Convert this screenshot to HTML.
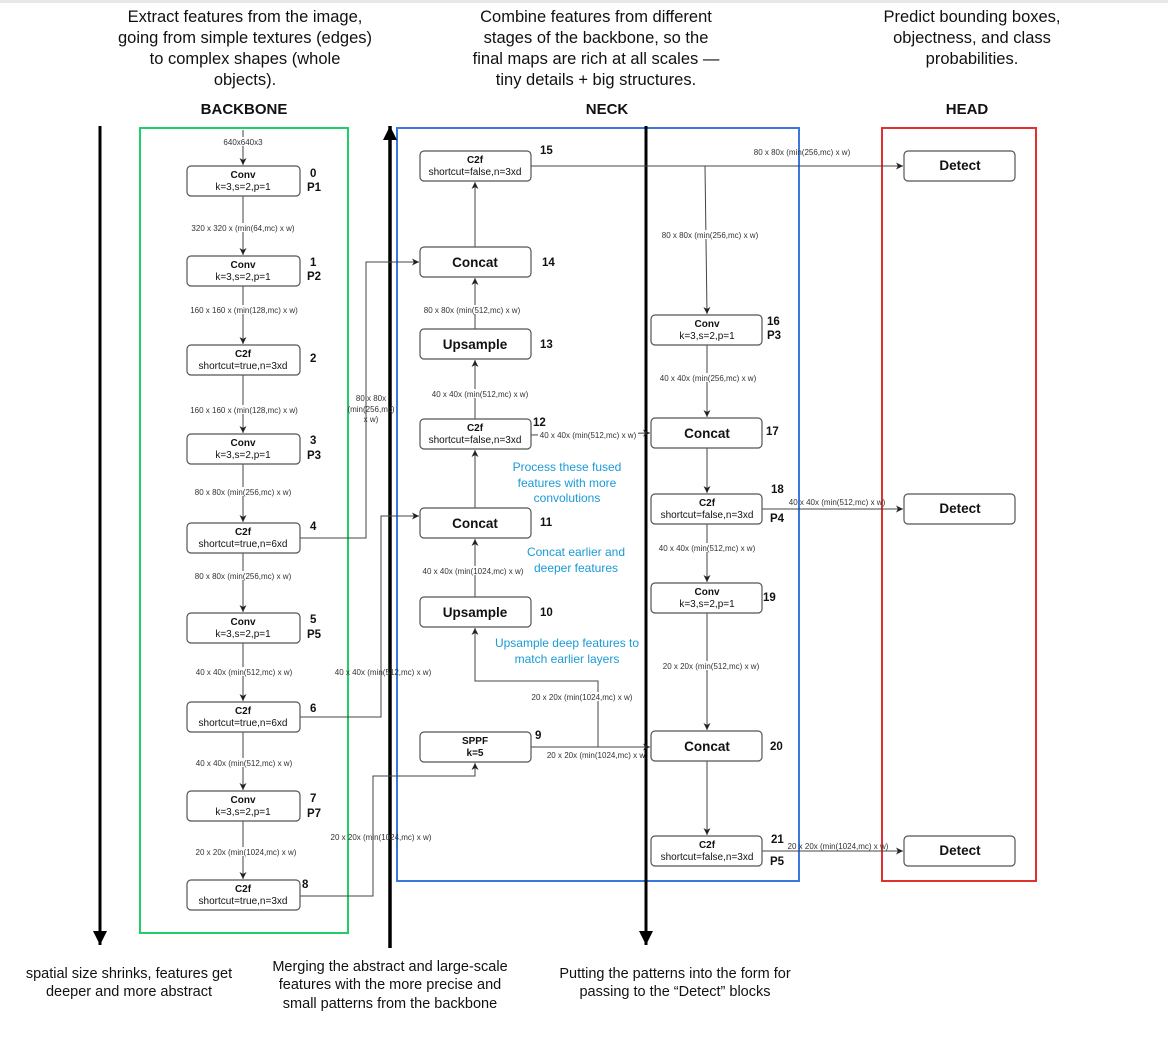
<!DOCTYPE html>
<html><head><meta charset="utf-8"><style>
html,body{margin:0;padding:0;background:#fff}
svg{display:block}
text{font-family:"Liberation Sans",sans-serif}
.t{font-size:16.5px;fill:#111;text-anchor:middle}
.bt{font-size:14.5px;fill:#111;text-anchor:middle}
.h{font-size:15px;font-weight:bold;fill:#111;text-anchor:middle}
.s{font-size:8px;fill:#333;text-anchor:middle}
.b{font-size:10px;fill:#111;text-anchor:middle}
.bb{font-size:10px;font-weight:bold;fill:#111;text-anchor:middle}
.big{font-size:13.5px;font-weight:bold;fill:#111;text-anchor:middle}
.n{font-size:11.5px;font-weight:bold;fill:#111}
.bl{font-size:12px;fill:#1a9ad6;text-anchor:middle}
.box{fill:#fff;stroke:#555;stroke-width:1.2}
.ln{stroke:#444;stroke-width:1;fill:none}
</style></head><body>
<svg width="1168" height="1045" viewBox="0 0 1168 1045" xmlns="http://www.w3.org/2000/svg">
<defs>
<marker id="a" markerWidth="8" markerHeight="8" refX="7" refY="4" orient="auto" markerUnits="userSpaceOnUse"><path d="M0,0.5 L7,4 L0,7.5 L2,4z" fill="#222"/></marker>
<marker id="A" markerWidth="16" markerHeight="14" refX="14" refY="7" orient="auto" markerUnits="userSpaceOnUse"><path d="M0,0 L14,7 L0,14z" fill="#000"/></marker>
</defs>
<rect x="0" y="0" width="1168" height="3" fill="#e8e8e8"/>
<text class="t" x="245" y="22">Extract features from the image,</text>
<text class="t" x="245" y="43">going from simple textures (edges)</text>
<text class="t" x="245" y="64">to complex shapes (whole</text>
<text class="t" x="245" y="85">objects).</text>
<text class="t" x="596" y="22">Combine features from different</text>
<text class="t" x="596" y="43">stages of the backbone, so the</text>
<text class="t" x="596" y="64">final maps are rich at all scales —</text>
<text class="t" x="596" y="85">tiny details + big structures.</text>
<text class="t" x="972" y="22">Predict bounding boxes,</text>
<text class="t" x="972" y="43">objectness, and class</text>
<text class="t" x="972" y="64">probabilities.</text>
<text class="h" x="244" y="114">BACKBONE</text>
<text class="h" x="607" y="114">NECK</text>
<text class="h" x="967" y="114">HEAD</text>
<rect x="140" y="128" width="208" height="805" fill="none" stroke="#22cc66" stroke-width="2"/>
<rect x="397" y="128" width="402" height="753" fill="none" stroke="#3a78dd" stroke-width="2"/>
<rect x="882" y="128" width="154" height="753" fill="none" stroke="#e03030" stroke-width="2"/>
<line x1="100" y1="126" x2="100" y2="945" stroke="#000" stroke-width="3" marker-end="url(#A)"/>
<line x1="390" y1="948" x2="390" y2="126" stroke="#000" stroke-width="3.5" marker-end="url(#A)"/>
<line x1="646" y1="126" x2="646" y2="945" stroke="#000" stroke-width="3" marker-end="url(#A)"/>
<g class="ln">
<line x1="243" y1="130" x2="243" y2="165" marker-end="url(#a)"/>
<line x1="243" y1="196" x2="243" y2="255" marker-end="url(#a)"/>
<line x1="243" y1="286" x2="243" y2="344" marker-end="url(#a)"/>
<line x1="243" y1="375" x2="243" y2="433" marker-end="url(#a)"/>
<line x1="243" y1="464" x2="243" y2="522" marker-end="url(#a)"/>
<line x1="243" y1="553" x2="243" y2="612" marker-end="url(#a)"/>
<line x1="243" y1="643" x2="243" y2="701" marker-end="url(#a)"/>
<line x1="243" y1="732" x2="243" y2="790" marker-end="url(#a)"/>
<line x1="243" y1="821" x2="243" y2="879" marker-end="url(#a)"/>
<polyline points="300,538 366,538 366,262 419,262" marker-end="url(#a)"/>
<polyline points="300,717 381,717 381,516 419,516" marker-end="url(#a)"/>
<polyline points="300,896 373,896 373,776 475,776 475,763" marker-end="url(#a)"/>
<line x1="475" y1="247" x2="475" y2="182" marker-end="url(#a)"/>
<line x1="475" y1="329" x2="475" y2="278" marker-end="url(#a)"/>
<line x1="475" y1="419" x2="475" y2="360" marker-end="url(#a)"/>
<line x1="475" y1="508" x2="475" y2="450" marker-end="url(#a)"/>
<line x1="475" y1="597" x2="475" y2="539" marker-end="url(#a)"/>
<polyline points="598,747 598,681 475,681 475,628" marker-end="url(#a)"/>
<line x1="531" y1="747" x2="650" y2="747" marker-end="url(#a)"/>
<line x1="531" y1="435" x2="650" y2="433" marker-end="url(#a)"/>
<line x1="531" y1="166" x2="903" y2="166" marker-end="url(#a)"/>
<line x1="705" y1="166" x2="707" y2="314" marker-end="url(#a)"/>
<line x1="707" y1="345" x2="707" y2="417" marker-end="url(#a)"/>
<line x1="707" y1="448" x2="707" y2="493" marker-end="url(#a)"/>
<line x1="707" y1="524" x2="707" y2="582" marker-end="url(#a)"/>
<line x1="707" y1="613" x2="707" y2="730" marker-end="url(#a)"/>
<line x1="707" y1="761" x2="707" y2="835" marker-end="url(#a)"/>
<line x1="762" y1="509" x2="903" y2="509" marker-end="url(#a)"/>
<line x1="762" y1="851" x2="903" y2="851" marker-end="url(#a)"/>
</g>
<g fill="#fff">
<rect x="220" y="137" width="46" height="9"/>
<rect x="186" y="223" width="114" height="9"/>
<rect x="186" y="305" width="116" height="9"/>
<rect x="186" y="405" width="116" height="9"/>
<rect x="190" y="487" width="106" height="9"/>
<rect x="190" y="571" width="106" height="9"/>
<rect x="190" y="667" width="108" height="9"/>
<rect x="190" y="758" width="108" height="9"/>
<rect x="190" y="847" width="112" height="9"/>
<rect x="418" y="305" width="108" height="9"/>
<rect x="426" y="389" width="108" height="9"/>
<rect x="416" y="566" width="114" height="9"/>
<rect x="526" y="692" width="112" height="9"/>
<rect x="656" y="230" width="108" height="9"/>
<rect x="654" y="373" width="108" height="9"/>
<rect x="654" y="543" width="108" height="9"/>
<rect x="658" y="661" width="108" height="9"/>
<rect x="538" y="430" width="100" height="9"/>
</g>
<text class="s" x="243" y="145">640x640x3</text>
<text class="s" x="243" y="231">320 x 320 x (min(64,mc) x w)</text>
<text class="s" x="244" y="313">160 x 160 x (min(128,mc) x w)</text>
<text class="s" x="244" y="413">160 x 160 x (min(128,mc) x w)</text>
<text class="s" x="243" y="495">80 x 80x (min(256,mc) x w)</text>
<text class="s" x="243" y="579">80 x 80x (min(256,mc) x w)</text>
<text class="s" x="244" y="675">40 x 40x (min(512,mc) x w)</text>
<text class="s" x="244" y="766">40 x 40x (min(512,mc) x w)</text>
<text class="s" x="246" y="855">20 x 20x (min(1024,mc) x w)</text>
<text class="s" x="371" y="401">80 x 80x</text>
<text class="s" x="371" y="412">(min(256,mc)</text>
<text class="s" x="371" y="422">x w)</text>
<text class="s" x="383" y="675">40 x 40x (min(512,mc) x w)</text>
<text class="s" x="381" y="840">20 x 20x (min(1024,mc) x w)</text>
<text class="s" x="472" y="313">80 x 80x (min(512,mc) x w)</text>
<text class="s" x="480" y="397">40 x 40x (min(512,mc) x w)</text>
<text class="s" x="473" y="574">40 x 40x (min(1024,mc) x w)</text>
<text class="s" x="582" y="700">20 x 20x (min(1024,mc) x w)</text>
<text class="s" x="596" y="758">20 x 20x (min(1024,mc) x w</text>
<text class="s" x="588" y="438">40 x 40x (min(512,mc) x w)</text>
<text class="s" x="802" y="155">80 x 80x (min(256,mc) x w)</text>
<text class="s" x="710" y="238">80 x 80x (min(256,mc) x w)</text>
<text class="s" x="708" y="381">40 x 40x (min(256,mc) x w)</text>
<text class="s" x="707" y="551">40 x 40x (min(512,mc) x w)</text>
<text class="s" x="711" y="669">20 x 20x (min(512,mc) x w)</text>
<text class="s" x="837" y="505">40 x 40x (min(512,mc) x w)</text>
<text class="s" x="838" y="849">20 x 20x (min(1024,mc) x w)</text>
<g>
<rect class="box" x="187" y="166" width="113" height="30" rx="4"/><text class="bb" x="243" y="178">Conv</text><text class="b" x="243" y="190">k=3,s=2,p=1</text>
<rect class="box" x="187" y="256" width="113" height="30" rx="4"/><text class="bb" x="243" y="268">Conv</text><text class="b" x="243" y="280">k=3,s=2,p=1</text>
<rect class="box" x="187" y="345" width="113" height="30" rx="4"/><text class="bb" x="243" y="357">C2f</text><text class="b" x="243" y="369">shortcut=true,n=3xd</text>
<rect class="box" x="187" y="434" width="113" height="30" rx="4"/><text class="bb" x="243" y="446">Conv</text><text class="b" x="243" y="458">k=3,s=2,p=1</text>
<rect class="box" x="187" y="523" width="113" height="30" rx="4"/><text class="bb" x="243" y="535">C2f</text><text class="b" x="243" y="547">shortcut=true,n=6xd</text>
<rect class="box" x="187" y="613" width="113" height="30" rx="4"/><text class="bb" x="243" y="625">Conv</text><text class="b" x="243" y="637">k=3,s=2,p=1</text>
<rect class="box" x="187" y="702" width="113" height="30" rx="4"/><text class="bb" x="243" y="714">C2f</text><text class="b" x="243" y="726">shortcut=true,n=6xd</text>
<rect class="box" x="187" y="791" width="113" height="30" rx="4"/><text class="bb" x="243" y="803">Conv</text><text class="b" x="243" y="815">k=3,s=2,p=1</text>
<rect class="box" x="187" y="880" width="113" height="30" rx="4"/><text class="bb" x="243" y="892">C2f</text><text class="b" x="243" y="904">shortcut=true,n=3xd</text>
</g>
<text class="n" x="310" y="177">0</text><text class="n" x="307" y="191">P1</text>
<text class="n" x="310" y="266">1</text><text class="n" x="307" y="280">P2</text>
<text class="n" x="310" y="362">2</text>
<text class="n" x="310" y="444">3</text><text class="n" x="307" y="459">P3</text>
<text class="n" x="310" y="530">4</text>
<text class="n" x="310" y="623">5</text><text class="n" x="307" y="638">P5</text>
<text class="n" x="310" y="712">6</text>
<text class="n" x="310" y="802">7</text><text class="n" x="307" y="817">P7</text>
<text class="n" x="302" y="888">8</text>
<rect class="box" x="420" y="151" width="111" height="30" rx="4"/><text class="bb" x="475" y="163">C2f</text><text class="b" x="475" y="175">shortcut=false,n=3xd</text>
<rect class="box" x="420" y="247" width="111" height="30" rx="4"/><text class="big" x="475" y="267">Concat</text>
<rect class="box" x="420" y="329" width="111" height="30" rx="4"/><text class="big" x="475" y="349">Upsample</text>
<rect class="box" x="420" y="419" width="111" height="30" rx="4"/><text class="bb" x="475" y="431">C2f</text><text class="b" x="475" y="443">shortcut=false,n=3xd</text>
<rect class="box" x="420" y="508" width="111" height="30" rx="4"/><text class="big" x="475" y="528">Concat</text>
<rect class="box" x="420" y="597" width="111" height="30" rx="4"/><text class="big" x="475" y="617">Upsample</text>
<rect class="box" x="420" y="732" width="111" height="30" rx="4"/><text class="bb" x="475" y="744">SPPF</text><text class="bb" x="475" y="756">k=5</text>
<text class="n" x="540" y="154">15</text>
<text class="n" x="542" y="266">14</text>
<text class="n" x="540" y="348">13</text>
<text class="n" x="533" y="426">12</text>
<text class="n" x="540" y="526">11</text>
<text class="n" x="540" y="616">10</text>
<text class="n" x="535" y="739">9</text>
<text class="bl" x="567" y="471">Process these fused</text>
<text class="bl" x="567" y="487">features with more</text>
<text class="bl" x="567" y="502">convolutions</text>
<text class="bl" x="576" y="556">Concat earlier and</text>
<text class="bl" x="576" y="572">deeper features</text>
<text class="bl" x="567" y="647">Upsample deep features to</text>
<text class="bl" x="567" y="663">match earlier layers</text>
<rect class="box" x="651" y="315" width="111" height="30" rx="4"/><text class="bb" x="707" y="327">Conv</text><text class="b" x="707" y="339">k=3,s=2,p=1</text>
<rect class="box" x="651" y="418" width="111" height="30" rx="4"/><text class="big" x="707" y="438">Concat</text>
<rect class="box" x="651" y="494" width="111" height="30" rx="4"/><text class="bb" x="707" y="506">C2f</text><text class="b" x="707" y="518">shortcut=false,n=3xd</text>
<rect class="box" x="651" y="583" width="111" height="30" rx="4"/><text class="bb" x="707" y="595">Conv</text><text class="b" x="707" y="607">k=3,s=2,p=1</text>
<rect class="box" x="651" y="731" width="111" height="30" rx="4"/><text class="big" x="707" y="751">Concat</text>
<rect class="box" x="651" y="836" width="111" height="30" rx="4"/><text class="bb" x="707" y="848">C2f</text><text class="b" x="707" y="860">shortcut=false,n=3xd</text>
<text class="n" x="767" y="325">16</text><text class="n" x="767" y="339">P3</text>
<text class="n" x="766" y="435">17</text>
<text class="n" x="771" y="493">18</text><text class="n" x="770" y="522">P4</text>
<text class="n" x="763" y="601">19</text>
<text class="n" x="770" y="750">20</text>
<text class="n" x="771" y="843">21</text><text class="n" x="770" y="865">P5</text>
<rect class="box" x="904" y="151" width="111" height="30" rx="4"/><text class="big" x="960" y="170">Detect</text>
<rect class="box" x="904" y="494" width="111" height="30" rx="4"/><text class="big" x="960" y="513">Detect</text>
<rect class="box" x="904" y="836" width="111" height="30" rx="4"/><text class="big" x="960" y="855">Detect</text>
<text class="bt" x="129" y="978">spatial size shrinks, features get</text>
<text class="bt" x="129" y="996">deeper and more abstract</text>
<text class="bt" x="390" y="971">Merging the abstract and large-scale</text>
<text class="bt" x="390" y="989">features with the more precise and</text>
<text class="bt" x="390" y="1008">small patterns from the backbone</text>
<text class="bt" x="675" y="978">Putting the patterns into the form for</text>
<text class="bt" x="675" y="996">passing to the “Detect” blocks</text>
</svg>
</body></html>
